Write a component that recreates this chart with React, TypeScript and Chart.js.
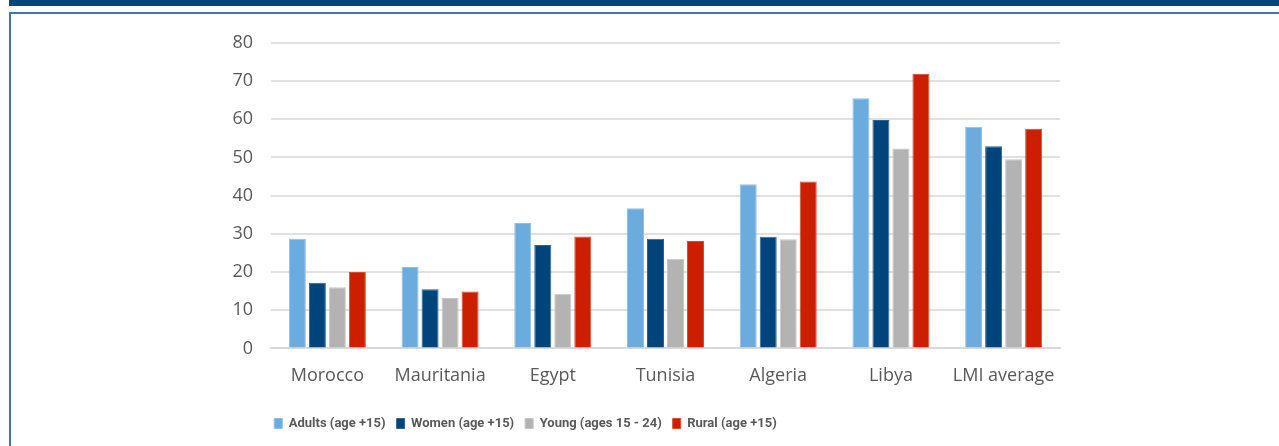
import React, { useEffect, useRef } from "react";
import { Chart, registerables } from "chart.js";

Chart.register(...registerables);

const categories = ["Morocco", "Mauritania", "Egypt", "Tunisia", "Algeria", "Libya", "LMI average"];
const adults = [28.7, 21.3, 32.8, 36.7, 43.0, 65.5, 58.0];
const women = [17.2, 15.5, 27.1, 28.7, 29.2, 59.8, 52.9];
const young = [16.0, 13.2, 14.3, 23.5, 28.6, 52.3, 49.5];
const rural = [20.0, 14.9, 29.3, 28.1, 43.7, 71.9, 57.5];
const seriesNames = ["Adults (age +15)", "Women (age +15)", "Young (ages 15 - 24)", "Rural (age +15)"];
const yTicks = [0, 10, 20, 30, 40, 50, 60, 70, 80];

const legendShift = {
  id: "legendShift",
  afterLayout(chart: any) {
    const lg = chart.legend;
    if (lg) {
      lg.left -= 120;
      lg.right -= 120;
    }
  },
};

export default function App() {
  const ref = useRef<HTMLCanvasElement | null>(null);
  useEffect(() => {
    if (!ref.current) return;
    const mk = (label: string, data: number[], bg: string, bd: string) => ({
      label,
      data,
      backgroundColor: bg,
      borderColor: bd,
      borderWidth: 1,
      categoryPercentage: 0.71,
      barPercentage: 0.85,
    });
    const chart = new Chart(ref.current, {
      type: "bar",
      data: {
        labels: categories,
        datasets: [
          mk(seriesNames[0], adults, "#6CABDD", "#8DBFE6"),
          mk(seriesNames[1], women, "#00447C", "#2A6192"),
          mk(seriesNames[2], young, "#B3B3B3", "#C6C6C6"),
          mk(seriesNames[3], rural, "#CC1F00", "#D94A33"),
        ],
      },
      plugins: [legendShift],
      options: {
        animation: false,
        responsive: false,
        maintainAspectRatio: false,
        layout: { padding: { left: 220, right: 219, top: 14, bottom: 6 } },
        plugins: {
          tooltip: { enabled: false },
          legend: {
            position: "bottom",
            labels: {
              boxWidth: 8,
              boxHeight: 10,
              padding: 11,
              color: "#595959",
              font: { family: "Roboto, sans-serif", size: 13, weight: "bold" },
            },
          },
        },
        scales: {
          x: {
            afterFit: (s: any) => {
              s.height = s.height + 10;
            },
            grid: { display: false },
            border: { display: true, color: "#D9D9D9", width: 2 },
            ticks: {
              color: "#595959",
              padding: 9,
              font: { family: "'Open Sans', sans-serif", size: 18 },
            },
          },
          y: {
            min: 0,
            max: 80,
            afterFit: (s: any) => {
              s.width = 40;
            },
            afterBuildTicks: (s: any) => {
              s.ticks = yTicks.map((v) => ({ value: v }));
            },
            grid: { color: "#E0E0E0", lineWidth: 2, drawTicks: false },
            border: { display: false },
            ticks: {
              color: "#595959",
              padding: 18,
              font: { family: "'Open Sans', sans-serif", size: 18 },
            },
          },
        },
      },
    });
    return () => chart.destroy();
  }, []);

  return (
    <div>
      <div
        style={{ position: "fixed", left: 9, top: 0, right: 0, height: 6, background: "#00467F" }}
      />
      <div
        style={{
          position: "fixed",
          left: 9,
          top: 12,
          width: 1300,
          height: 460,
          borderTop: "2px solid #3F77AA",
          borderLeft: "2px solid #3F77AA",
          boxSizing: "border-box",
        }}
      />
      <div style={{ position: "fixed", left: 11, top: 14, width: 1268, height: 432 }}>
        <canvas ref={ref} width={1268} height={432} style={{ width: 1268, height: 432 }} />
      </div>
    </div>
  );
}
